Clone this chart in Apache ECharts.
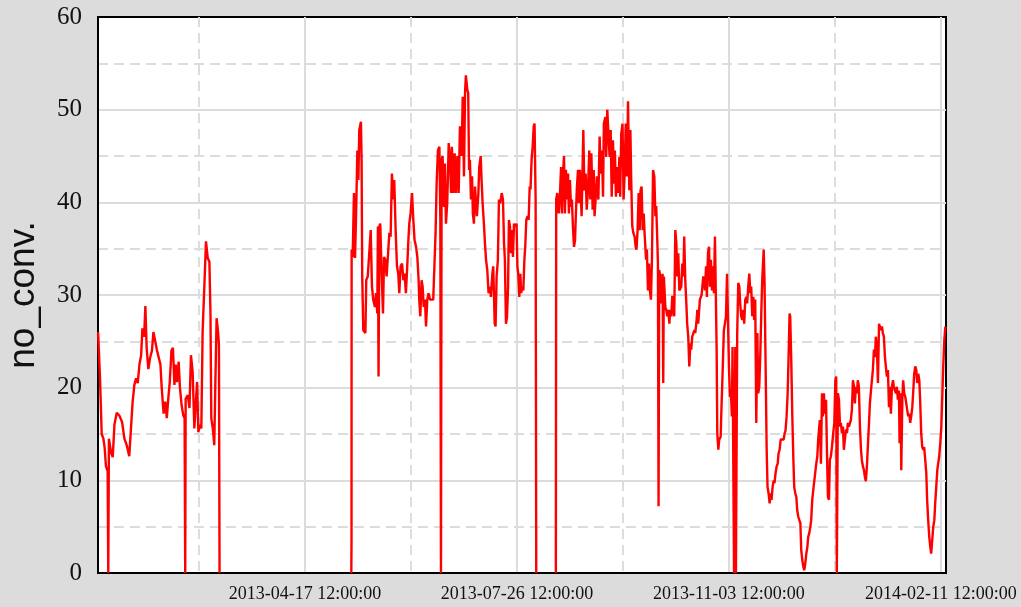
<!DOCTYPE html>
<html>
<head>
<meta charset="utf-8">
<script src="https://cdn.jsdelivr.net/npm/echarts@6/dist/echarts.min.js"></script>
<style>
html,body{margin:0;padding:0;background:#dcdcdc;}
#chart{width:1021px;height:607px;}
</style>
</head>
<body>
<div id="chart"></div>
<script>
// Data: [day of year 2013 (1.0 = 2013-01-01 00:00; >365 continues into 2014), no_conv.]
const segWinter = [[9.9,26],[10.8,21],[11.6,15],[12.4,14.5],[13.0,13.5],[13.6,11.5],[14.4,11],[14.7,0],[15.0,14.5],[16.0,13],[16.8,12.5],[17.6,16],[18.7,17.3],[19.9,17],[21.2,16.3],[22.3,14.5],[23.4,13.8],[24.6,12.6],[25.4,15.6],[26.2,18.5],[27.0,20.3],[27.8,21],[28.6,20.5],[29.4,22.5],[30.2,23.5],[30.8,26.4],[31.6,25.5],[32.2,28.8],[32.8,24.3],[33.6,22],[34.4,23.2],[35.3,24],[36.0,26],[36.9,26],[37.7,24],[38.5,24],[39.3,22.5],[39.9,20],[40.8,17.2],[41.6,18.5],[42.3,16.7],[43.0,18.8],[43.7,20.6],[44.5,24],[45.2,24.3],[45.9,20.3],[46.5,22.5],[47.1,20.6],[47.9,22.8],[48.5,20],[49.3,18.1],[50.1,17],[50.7,16.7],[51.0,0],[51.2,18.8],[52.2,19.2],[53.0,17.8],[53.7,23.5],[54.5,21.7],[55.3,15.6],[56.1,18.8],[56.6,20.6],[57.2,15.2],[58.0,16],[58.6,15.6],[59.2,26],[60.0,30.8],[60.8,35.8],[61.6,34],[62.4,33.6],[62.9,28.2],[63.3,16.7],[64.0,15.6],[64.7,13.8],[65.2,20.3],[65.8,27.5],[66.5,26],[66.9,24.6],[67.2,0]];

const segSummer = [[129.35,0],[129.45,3.5],[129.5,34.9],[130.0,34.1],[130.6,41],[131.1,34],[131.6,38.5],[132.2,45.6],[132.7,42.4],[133.1,47.8],[133.9,48.7],[134.2,44.6],[134.5,32],[135.0,26.2],[136.0,25.9],[136.4,31.6],[137.1,32],[137.7,34.1],[138.5,37],[139.1,30.9],[139.7,29.5],[140.5,28.7],[141.0,30.2],[141.6,28],[141.9,37.4],[142.2,21.2],[142.6,37.4],[143.0,37.7],[143.7,32],[144.3,28],[144.8,34.1],[145.4,33.8],[146.0,32],[146.7,34.5],[147.3,36.7],[147.9,36.3],[148.5,43.1],[149.2,40.3],[149.6,42.4],[150.3,36.7],[150.9,33.1],[151.5,32.3],[152.0,30.2],[152.6,33.1],[153.3,33.4],[153.9,31.6],[154.5,32.3],[155.1,30.2],[155.8,33.4],[156.2,35.6],[156.7,37.7],[157.3,38.8],[158.0,41],[158.6,38.1],[159.2,35.9],[159.9,35.2],[160.5,34.1],[161.1,31.6],[161.4,29.5],[161.9,27.7],[162.5,31.6],[163.0,30.9],[163.5,28.7],[164.1,29.5],[164.6,26.6],[165.2,29.5],[165.8,30.2],[166.5,29.5],[167.3,29.5],[168.0,29.5],[168.8,29.5],[169.1,36.7],[169.6,42],[170.2,45.6],[170.9,46],[171.35,38.1],[171.65,0],[171.95,44.6],[172.4,45],[173.1,39.5],[173.5,44.2],[174.0,37.7],[174.6,39.9],[175.3,46.4],[175.9,44.6],[176.4,41],[176.8,46],[177.5,41],[178.1,45.3],[178.7,41],[179.4,45],[180.0,41],[180.6,48.2],[181.4,45],[181.9,51.4],[182.5,42.8],[183.0,51.8],[183.4,53.7],[184.1,52.1],[184.5,51.8],[184.9,43.5],[185.3,44.6],[185.8,40.3],[186.3,42.8],[186.7,38.8],[187.2,37.7],[187.7,41.7],[188.2,39.9],[188.6,38.5],[189.3,41],[189.7,43.8],[190.4,45],[190.8,42.4],[191.3,39.9],[191.9,37.7],[192.4,35.6],[192.9,33.8],[193.5,32.7],[194.1,30.2],[194.8,30.9],[195.2,29.8],[195.9,32.3],[196.3,33.1],[197.0,26.9],[197.4,26.6],[197.9,32],[198.5,33.8],[199.0,40.3],[199.6,39.9],[200.3,41],[200.9,40.3],[201.4,35.6],[201.8,33.8],[202.3,26.9],[202.8,27.6],[203.3,30.9],[203.7,38.1],[204.2,37.4],[204.7,34.5],[205.1,37],[205.6,34.1],[206.1,37.7],[206.7,37.4],[207.3,37.7],[207.7,33.1],[208.1,32.3],[208.6,29.8],[209.1,32.3],[209.5,30.2],[210.0,30.9],[210.5,30.5],[211.0,33.8],[211.4,35.2],[211.9,38.1],[212.5,38.5],[213.0,38.1],[213.5,41.7],[213.9,41.4],[214.4,44.6],[214.9,46],[215.4,48.2],[215.8,48.5],[216.3,40.3],[216.6,0]];

const segAutumn = [[225.85,0],[226.0,40.3],[226.5,41],[227.2,38.8],[227.8,41],[228.3,43.8],[228.7,38.8],[229.2,43.1],[229.7,45],[230.1,38.8],[230.6,43.5],[231.1,40.3],[231.6,43.1],[232.0,38.8],[232.5,42.4],[233.0,39.5],[233.4,40.3],[233.9,37.4],[234.4,35.2],[234.9,35.9],[235.3,38.8],[235.8,41.7],[236.3,43.5],[236.7,39.9],[237.2,43.5],[238.0,38.5],[238.8,47.8],[239.3,41.3],[239.9,43.1],[240.4,39.2],[241.0,41.3],[241.6,45.6],[242.1,40.3],[242.6,45.3],[243.2,39.2],[243.7,43.5],[244.1,38.5],[244.6,40.3],[245.2,42.8],[245.9,40.3],[246.5,47.1],[247.0,43.1],[247.6,45.6],[248.1,40.6],[248.5,48.5],[249.2,49.2],[249.6,44.9],[250.1,50],[250.7,50],[251.2,44.9],[251.7,47.8],[252.2,40.6],[252.8,46.7],[253.3,42],[253.7,45.6],[254.2,40.6],[254.8,43.8],[255.3,41],[255.8,44.9],[256.2,40.6],[256.7,47.4],[257.3,48.5],[257.8,40.3],[258.3,43.1],[258.8,48.5],[259.4,42.8],[259.9,50.9],[260.5,41.3],[261.0,47.8],[261.4,42.4],[261.9,37.4],[262.4,36.7],[263.0,36.3],[263.5,35.2],[263.9,34.9],[264.4,37],[264.9,41],[265.4,37],[265.8,41.3],[266.3,41.7],[266.8,37],[267.3,38.8],[267.7,36.7],[268.4,33.8],[268.8,34.9],[269.3,30.5],[269.8,33.4],[270.2,30.5],[270.7,29.5],[271.2,34.1],[271.7,43.5],[272.3,42.8],[272.8,38.5],[273.2,39.6],[273.7,35.9],[274.0,33.4],[274.3,7.2],[274.6,32.7],[275.1,32],[275.6,29.1],[276.2,32.3],[276.5,20.5],[276.8,32],[277.5,28.7],[277.9,28.4],[278.4,27.7],[278.9,28.4],[279.4,26.9],[279.8,28.4],[280.3,27.7],[280.8,29.9],[281.3,28.4],[281.7,27.7],[282.2,37],[282.7,35.6],[283.1,32],[283.6,34.5],[284.1,30.5],[284.6,30.5],[285.0,30.9],[285.5,33.4],[286.0,32],[286.4,36.3],[286.9,31.6],[287.4,29.1],[287.8,26.9],[288.3,25.5],[288.8,22.3],[289.3,24.8],[289.7,24.1],[290.2,25.5],[290.7,25.5],[291.2,26.2],[291.6,25.9],[292.1,26.9],[292.6,28.4],[293.0,26.9],[293.8,29.5],[294.6,30],[295.4,32],[296.2,30.5],[296.7,33.1],[297.1,29.8],[297.6,34.5],[298.1,35.2],[298.5,30.9],[299.0,33.8],[299.5,30.5],[300.0,33.1],[300.4,30.2],[300.9,36.3],[301.4,36.3],[301.7,24.1],[302.0,15.1],[302.5,13.3],[302.9,14.4],[303.6,14.7],[304.0,18],[304.5,21.5],[305.1,26.2],[305.6,26.9],[306.1,27.7],[306.6,32.3],[307.0,32.3],[307.5,22.3],[308.0,19],[308.4,19.7],[308.9,16.9],[309.2,24.4],[309.5,24.4],[309.9,0],[310.5,24.4],[310.8,0],[311.4,25.9],[311.9,31.3],[312.4,30.9],[312.8,29.1],[313.3,27.7],[313.8,27.3],[314.3,28.4],[314.7,26.9],[315.2,29.5],[315.7,29.8],[316.1,29.1],[316.6,30.9],[317.1,32.3],[317.6,30.2],[318.0,30.9],[318.5,27.7],[319.0,29.8],[319.4,27.3],[319.9,29.5],[320.4,16.2],[320.9,25.9],[321.3,19.4],[321.8,20.1],[322.3,23.7],[322.8,28.4],[323.2,31.6],[323.9,34.9],[324.3,31.3],[324.8,22.3],[325.3,13.3],[325.7,9.3],[326.2,8.6],[326.7,7.5],[327.2,8.6],[327.6,7.9],[328.1,9.3],[328.6,10],[329.0,9.7],[329.5,10.8],[330.0,11.5],[330.5,11.8],[330.9,12.9],[331.4,13.3],[331.9,14.4],[332.3,14.4],[332.8,14.4],[333.3,14.4],[333.8,15.1],[334.2,15.4],[334.7,16.9],[335.2,19.4],[335.6,23],[336.1,28],[336.4,27.7],[336.9,23],[337.4,16.9],[337.9,12.2],[338.3,9.3],[338.8,8.6],[339.3,8.2],[339.7,6.8],[340.2,6.1],[340.7,5.7],[341.2,5.4],[341.6,2.5],[342.1,1.4],[342.6,0.7],[343.0,0.3],[343.5,1],[344.0,2.1],[344.5,2.8],[344.9,3.9],[345.4,4.3],[345.9,5],[346.3,5.7],[346.8,7.9],[347.3,9],[347.8,10],[348.2,10.8],[348.7,11.8],[349.2,12.6],[349.6,14.4],[350.1,15.8],[350.4,16.5],[350.9,11.8],[351.4,19.4],[351.8,16.9],[352.3,19.4],[352.8,17.2],[353.3,18.7],[353.7,13.6],[354.2,8.2],[354.7,7.9],[355.1,12.2],[355.6,12.6],[356.1,13.6],[356.7,15.1],[357.2,16.2],[357.7,20.8],[358.1,21.2],[358.4,0],[358.9,19.4],[359.4,18.7],[359.9,15.8],[360.3,16.2],[360.8,15.1],[361.3,15.8],[361.7,13.3],[362.2,14.4],[362.7,15.5],[363.2,15.1],[363.6,16.2],[364.1,15.8],[364.6,15.8],[365.0,16.5],[365.5,17.6],[366.0,20.8],[366.5,20.1],[366.9,18.3],[367.4,20.1],[367.9,19.4],[368.3,20.8],[368.8,20.1],[369.3,15.8],[369.8,13.3],[370.2,12.2],[370.7,11.5],[371.2,11.1],[371.6,10.4],[372.1,9.9],[372.6,11.5],[373.1,14],[373.5,15.8],[374.0,18.3],[374.5,19.7],[374.9,19.7],[375.4,21.9],[375.9,24.1],[376.4,23.3],[376.8,25.5],[377.3,24.4],[377.8,20.5],[378.3,26.9],[378.7,26.9],[379.2,26.2],[379.7,26.6],[380.1,25.9],[380.6,25.5],[381.1,23.3],[381.6,23.3],[382.0,21.2],[382.5,21.9],[383.0,17.9],[383.4,20.1],[383.9,17.2],[384.4,20.1],[384.9,20.8],[385.3,20.1],[385.8,19.7],[386.3,19.4],[386.7,20.1],[387.2,18.7],[387.7,19.7],[388.0,14],[388.5,19.4],[388.8,11.1],[389.3,18.7],[389.7,20.8],[390.2,19.4],[390.7,19],[391.1,19],[391.6,17.6],[392.1,16.9],[392.6,17.2],[393.0,16.2],[393.5,16.9],[394.0,17.9],[394.4,19.4],[394.9,21.5],[395.4,22.3],[395.9,21.9],[396.3,20.5],[396.8,21.5],[397.3,20.8],[397.7,18.7],[398.2,15.1],[398.7,13.6],[399.2,13.3],[399.6,13.6],[400.1,12.2],[400.6,10.8],[401.0,7.9],[401.5,5.7],[402.0,3.9],[402.5,2.8],[402.9,2.1],[403.4,2.1],[403.9,5],[404.4,5.7],[404.8,7.5],[405.3,9.3],[405.8,11.1],[406.2,11.8],[406.7,12.6],[407.2,14],[407.7,15.8],[408.1,18.7],[408.6,22.3],[409.1,25.1],[409.6,26.6]];

const majorTickDays = [107.5, 207.5, 307.5, 407.5];   // 2013-04-17 12:00 ... 2014-02-11 12:00
const minorTickDays = [57.5, 157.5, 257.5, 357.5];
const axisStartDay = 9.85;
const axisEndDay = 409.9;
const yMin = 0, yMax = 60, yStep = 10;

const DAY_MS = 86400000;
const BASE_MS = Date.UTC(2013, 0, 1);
const toMs = d => BASE_MS + (d - 1) * DAY_MS;

function toSeries(seg) { return seg.map(p => [toMs(p[0]), p[1]]); }
const lineData = []
  .concat(toSeries(segWinter))
  .concat([[toMs(100), '-']])
  .concat(toSeries(segSummer))
  .concat([[toMs(221), '-']])
  .concat(toSeries(segAutumn));

function pad(n) { return (n < 10 ? '0' : '') + n; }
function fmt(v) {
  const t = new Date(Math.round(v / 60000) * 60000);
  return t.getUTCFullYear() + '-' + pad(t.getUTCMonth() + 1) + '-' + pad(t.getUTCDate()) + ' ' +
    pad(t.getUTCHours()) + ':' + pad(t.getUTCMinutes()) + ':' + pad(t.getUTCSeconds());
}

const majorMs = majorTickDays.map(toMs);
const minorMs = minorTickDays.map(toMs);
const gridColor = '#dcdcdc';

const chart = echarts.init(document.getElementById('chart'));
chart.setOption({
  backgroundColor: '#dcdcdc',
  animation: false,
  grid: {
    left: 98, right: 75, top: 17, bottom: 34,
    show: true, backgroundColor: '#ffffff', borderColor: '#000000', borderWidth: 2,
    containLabel: false, outerBoundsMode: 'none'
  },
  xAxis: [
    {
      type: 'value', min: toMs(axisStartDay), max: toMs(axisEndDay),
      axisLine: { show: true, lineStyle: { color: '#000', width: 2 } },
      axisTick: { show: false, customValues: majorMs },
      axisLabel: {
        customValues: majorMs, formatter: fmt,
        fontFamily: 'Liberation Serif', fontSize: 18, color: '#111', margin: 12
      },
      splitLine: { show: true, lineStyle: { color: gridColor, width: 2 } }
    },
    {
      type: 'value', min: toMs(axisStartDay), max: toMs(axisEndDay),
      axisLine: { show: false },
      axisTick: { show: false, customValues: minorMs },
      axisLabel: { show: false, customValues: minorMs },
      splitLine: { show: true, lineStyle: { color: gridColor, width: 2, type: [10, 6] } }
    }
  ],
  yAxis: {
    type: 'value', min: yMin, max: yMax, interval: yStep,
    name: 'no_conv.', nameLocation: 'middle', nameGap: 56,
    nameTextStyle: { fontFamily: 'Liberation Sans', fontSize: 37, color: '#111' },
    axisLine: { show: true, lineStyle: { color: '#000', width: 2 } },
    axisTick: { show: false },
    axisLabel: { fontFamily: 'Liberation Serif', fontSize: 25, color: '#111', margin: 16 },
    splitLine: { show: true, showMinLine: false, showMaxLine: false, lineStyle: { color: gridColor, width: 2 } },
    minorTick: { show: false, splitNumber: 2 },
    minorSplitLine: { show: true, lineStyle: { color: gridColor, width: 2, type: [10, 6] } }
  },
  series: [{
    type: 'line', xAxisIndex: 0, data: lineData,
    showSymbol: false, symbol: 'none', connectNulls: false,
    lineStyle: { color: '#ff0000', width: 2.4 }, itemStyle: { color: '#ff0000' },
    z: 5
  }]
});
</script>
</body>
</html>
